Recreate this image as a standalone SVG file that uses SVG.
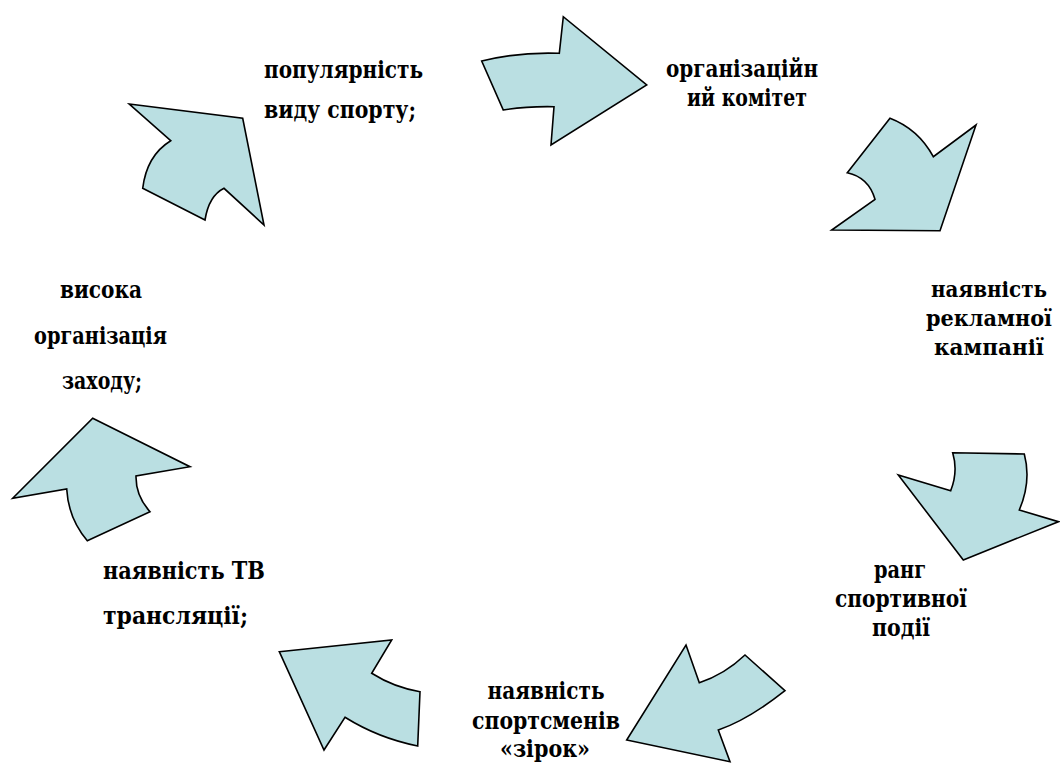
<svg xmlns="http://www.w3.org/2000/svg" width="1060" height="763" viewBox="0 0 1060 763">
<style>
.arr{fill:#badfe2;stroke:#000;stroke-width:1.6;stroke-linejoin:miter}
.t{font-family:'DejaVu Serif','Liberation Serif',serif;font-weight:bold;font-size:24px;fill:#000}
.s{font-size:22px}
.c{text-anchor:middle}
</style>
<rect width="1060" height="763" fill="#fff"/>
<g id="connectors">
<path id="arrow1" class="arr" d="M481.7,61 Q519.5,51.8 559.3,53.3 L563.3,16.7 L646.7,85 L551,145 L554,106.7 Q524.7,106.2 503.3,110 Z"/>
<path id="arrow2" class="arr" d="M890,118.3 Q918.3,129.1 933.3,156.7 L976,125 L940,230.7 L831.7,230 L875,199.3 Q868.8,177.4 847.3,172.7 Z"/>
<path id="arrow3" class="arr" d="M952.7,452.7 L1024.3,454 Q1031.6,481.4 1019.3,510 L1058.3,521.7 L963.3,560 L898.3,475 L950.7,490.7 Q958.3,471.7 952.7,452.7 Z"/>
<path id="arrow4" class="arr" d="M686,645 L699.3,682.7 Q724.5,674.5 745,655 L785,690.7 Q748.3,719.7 718.3,730 L730,761.7 L626.7,740 Z"/>
<path id="arrow5" class="arr" d="M279.3,651.7 L391.7,640 L371.7,673.3 Q394.2,687.5 420,691.7 L417.7,746 Q378.7,738.3 345,717.3 L324,750 Z"/>
<path id="arrow6" class="arr" d="M92.7,418.3 L190,466.7 L136,476 Q135.6,496.2 150,511.7 L87.3,540.7 Q68.4,518.6 66.7,489 L12.7,498.3 Z"/>
<path id="arrow7" class="arr" d="M129.3,104 L242.7,118.3 L264,225 L224,188.3 Q208.9,195.8 205,220 L142.7,188.3 Q146.7,155.5 170.7,140.7 Z"/>
</g>
<g id="node-popularity" class="t">
<text x="264" y="78" textLength="159" lengthAdjust="spacingAndGlyphs">популярність</text>
<text x="264" y="118" textLength="152" lengthAdjust="spacingAndGlyphs">виду спорту;</text>
</g>
<g id="node-committee" class="t c">
<text x="742" y="77" textLength="152" lengthAdjust="spacingAndGlyphs">організаційн</text>
<text x="747" y="106" textLength="120" lengthAdjust="spacingAndGlyphs">ий комітет</text>
</g>
<g id="node-advertising" class="t s c">
<text x="989" y="297" textLength="116" lengthAdjust="spacingAndGlyphs">наявність</text>
<text x="989" y="326" textLength="126" lengthAdjust="spacingAndGlyphs">рекламної</text>
<text x="989" y="355" textLength="110" lengthAdjust="spacingAndGlyphs">кампанії</text>
</g>
<g id="node-rank" class="t c">
<text x="900" y="578" textLength="52" lengthAdjust="spacingAndGlyphs">ранг</text>
<text x="901" y="607" textLength="132" lengthAdjust="spacingAndGlyphs">спортивної</text>
<text x="901" y="636" textLength="58" lengthAdjust="spacingAndGlyphs">події</text>
</g>
<g id="node-stars" class="t c">
<text x="546" y="699" textLength="117" lengthAdjust="spacingAndGlyphs">наявність</text>
<text x="546" y="729" textLength="148" lengthAdjust="spacingAndGlyphs">спортсменів</text>
<text x="545" y="757" textLength="90" lengthAdjust="spacingAndGlyphs">«зірок»</text>
</g>
<g id="node-tv" class="t">
<text x="103" y="579" textLength="162" lengthAdjust="spacingAndGlyphs">наявність ТВ</text>
<text x="103" y="624" textLength="145" lengthAdjust="spacingAndGlyphs">трансляції;</text>
</g>
<g id="node-organisation" class="t c">
<text x="101" y="298" textLength="82" lengthAdjust="spacingAndGlyphs">висока</text>
<text x="100.5" y="344" textLength="133" lengthAdjust="spacingAndGlyphs">організація</text>
<text x="102" y="389" textLength="80" lengthAdjust="spacingAndGlyphs">заходу;</text>
</g>
</svg>
